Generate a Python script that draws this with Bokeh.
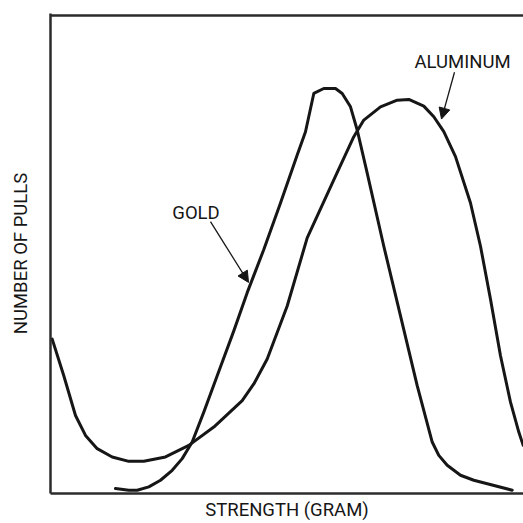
from bokeh.plotting import figure
from bokeh.models import Span, Label, Arrow, NormalHead, FixedTicker, Range1d
from bokeh.embed import file_html
from bokeh.resources import INLINE

# Strength (arbitrary units) and number of pulls (arbitrary units)
gold_strength = [65, 78.3, 86.7, 98.3, 110, 121.7, 131.7, 141.7, 153.3, 166.7, 183.3, 196.7,
                 213.3, 230, 246.7, 255, 263.3, 273.3, 285, 291.7, 300, 306.7, 316.7, 333.3,
                 350, 366.7, 381.7, 388.3, 396.7, 410, 423.3, 461.7]
gold_pulls = [5, 3.3, 3.3, 6.7, 13.3, 23.3, 35, 51.7, 81.7, 118.3, 163.3, 201.7,
              245, 291.7, 340, 363.3, 401.7, 406.7, 406.7, 401.7, 388.3, 365, 321.7, 248.3,
              178.3, 108.3, 51.7, 38.3, 28.3, 18.3, 13.3, 3.3]

alu_strength = [1.7, 13.3, 25, 35, 46.7, 61.7, 78.3, 93.3, 115, 138.3, 163.3, 191.7, 203.3,
                216.7, 236.7, 256.7, 283.3, 303.3, 313.3, 330, 346.7, 358.3, 373.3, 383.3,
                393.3, 405, 420, 430, 440, 450, 460, 468.3, 472.7]
alu_pulls = [155, 118.3, 78.3, 58.3, 45, 36.7, 32.3, 32.3, 36.7, 48.3, 66.7, 93.3, 110,
             135, 188.3, 256.7, 315, 358.3, 375, 388.3, 395, 395.7, 389, 378.3,
             363.3, 338.3, 291.7, 248.3, 195, 138.3, 91.7, 61.7, 48.3]

x_label = "STRENGTH (GRAM)"
y_label = "NUMBER OF PULLS"
series_names = ["GOLD", "ALUMINUM"]

FONT = "Roboto"
FSIZE = "18.5px"
INK = "#161616"
AXIS = "#2b2b2b"

p = figure(width=523, height=523, output_backend="svg", toolbar_location=None,
           x_range=Range1d(0, 473), y_range=Range1d(0, 482),
           min_border_left=50, min_border_right=0, min_border_top=13, min_border_bottom=28)
p.outline_line_color = None
p.xgrid.visible = False
p.ygrid.visible = False
p.background_fill_color = "white"
p.border_fill_color = "white"

for ax in (p.xaxis, p.yaxis):
    ax.ticker = FixedTicker(ticks=[])
    ax.axis_line_width = 2.5
    ax.axis_line_color = AXIS
    ax.major_tick_line_color = None
    ax.minor_tick_line_color = None
    ax.major_label_standoff = 0
    ax.axis_label_text_font = FONT
    ax.axis_label_text_font_size = FSIZE
    ax.axis_label_text_font_style = "normal"
    ax.axis_label_text_color = INK

p.xaxis.axis_label = x_label
p.xaxis.axis_label_standoff = 5
p.yaxis.axis_label = y_label
p.yaxis.axis_label_standoff = 19

p.add_layout(Span(location=480, dimension="width", line_color=AXIS, line_width=2.5))

p.line(gold_strength, gold_pulls, line_width=3, line_color=INK, line_join="round", line_cap="round")
p.line(alu_strength, alu_pulls, line_width=3, line_color=INK, line_join="round", line_cap="round")

# curve labels
p.add_layout(Label(x=145.5, y=282, text=series_names[0], text_align="center",
                   text_baseline="alphabetic", text_font=FONT, text_font_size=FSIZE, text_color=INK))
p.add_layout(Label(x=412, y=433, text=series_names[1], text_align="center",
                   text_baseline="alphabetic", text_font=FONT, text_font_size=FSIZE, text_color=INK))

# arrows
p.add_layout(Arrow(x_start=160, y_start=273, x_end=198, y_end=212, line_width=1.3, line_color=INK,
                   end=NormalHead(size=11, fill_color=INK, line_color=INK)))
p.add_layout(Arrow(x_start=404, y_start=423, x_end=391, y_end=376, line_width=1.3, line_color=INK,
                   end=NormalHead(size=11, fill_color=INK, line_color=INK)))

open("out.html", "w").write(file_html(p, INLINE))
